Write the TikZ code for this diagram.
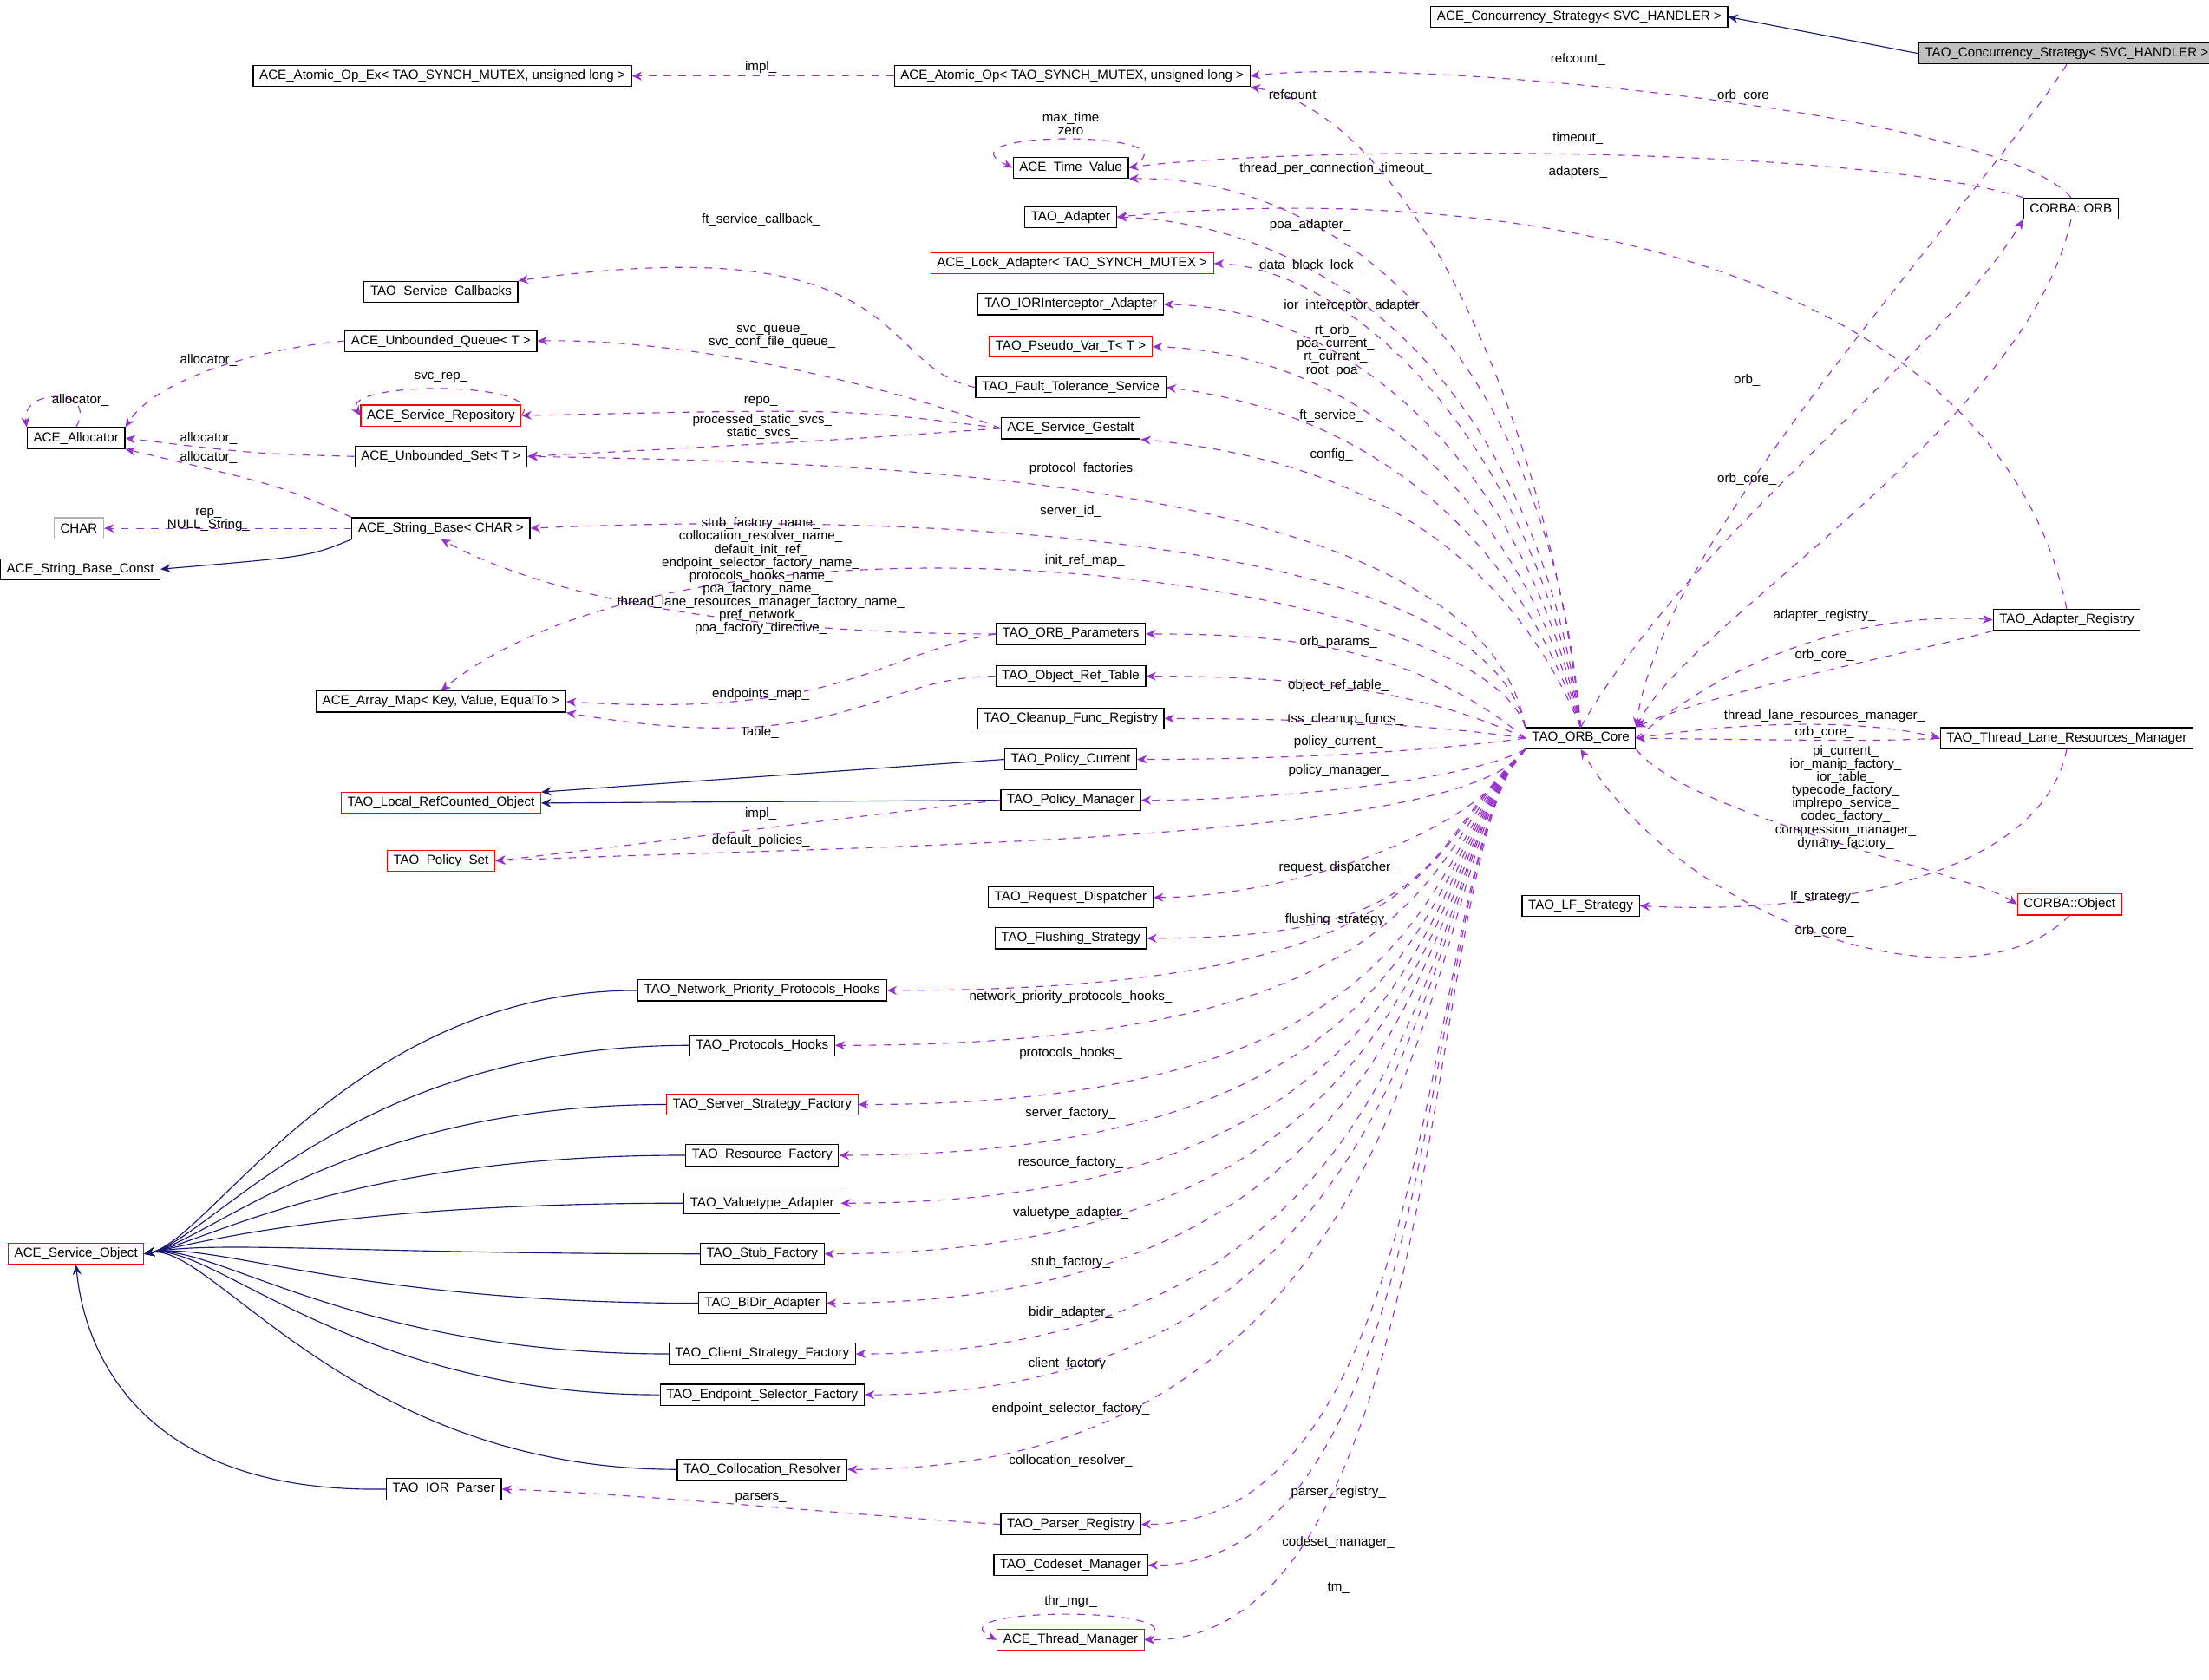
\documentclass[tikz,border=0pt]{standalone}
\usepackage{fontspec}
\setmainfont{Liberation Sans}
\usetikzlibrary{arrows.meta}
\definecolor{mbr}{RGB}{153,50,204}
\definecolor{nvy}{RGB}{25,25,112}
\tikzset{
  cls/.style={draw=black, fill=white, font=\fontsize{5.3}{5.6}\selectfont, inner xsep=2.5pt, inner ysep=1pt, minimum height=8.5pt},
  redcls/.style={cls, draw=red},
  lbl/.style={font=\fontsize{5.3}{5.3}\selectfont, align=center, inner sep=0.5pt},
  mem/.style={dashed, mbr, -{Stealth[length=4pt,width=3.5pt]}},
  inh/.style={nvy, -{Stealth[length=4pt,width=3.5pt]}}
}
\begin{document}
\begin{tikzpicture}[x=0.02cm,y=-0.02cm]
    \useasboundingbox (0,0) rectangle (1568,1192);
    % classes, middle column
    \node[cls] (aceConc) at (1121,12) {ACE\_Concurrency\_Strategy< SVC\_HANDLER >};
    \node[cls, fill=gray!50] (concS) at (1467,38) {TAO\_Concurrency\_Strategy< SVC\_HANDLER >};
    \node[cls] (atomEx) at (314,54) {ACE\_Atomic\_Op\_Ex< TAO\_SYNCH\_MUTEX, unsigned long >};
    \node[cls] (atom) at (761,54) {ACE\_Atomic\_Op< TAO\_SYNCH\_MUTEX, unsigned long >};
    \node[cls] (tval) at (760,119) {ACE\_Time\_Value};
    \node[cls] (adapter) at (760,154) {TAO\_Adapter};
    \node[redcls] (lockAd) at (761,187) {ACE\_Lock\_Adapter< TAO\_SYNCH\_MUTEX >};
    \node[cls] (iorIA) at (760,216) {TAO\_IORInterceptor\_Adapter};
    \node[redcls] (pseudo) at (760,246) {TAO\_Pseudo\_Var\_T< T >};
    \node[cls] (ftServ) at (760,275) {TAO\_Fault\_Tolerance\_Service};
    \node[cls] (gestalt) at (760,304) {ACE\_Service\_Gestalt};
    \node[cls] (orbParams) at (760,450) {TAO\_ORB\_Parameters};
    \node[cls] (objRef) at (760,480) {TAO\_Object\_Ref\_Table};
    \node[cls] (cleanup) at (760,510) {TAO\_Cleanup\_Func\_Registry};
    \node[cls] (polCur) at (760,539) {TAO\_Policy\_Current};
    \node[cls] (polMgr) at (760,568) {TAO\_Policy\_Manager};
    \node[cls] (reqDisp) at (760,637) {TAO\_Request\_Dispatcher};
    \node[cls] (flush) at (760,666) {TAO\_Flushing\_Strategy};
    \node[cls] (parserReg) at (760,1082) {TAO\_Parser\_Registry};
    \node[cls] (codeset) at (760,1111) {TAO\_Codeset\_Manager};
    \node[redcls] (thrMgr) at (760,1164) {ACE\_Thread\_Manager};
    % left columns
    \node[cls] (svcCb) at (313,207) {TAO\_Service\_Callbacks};
    \node[cls] (uqueue) at (313,242) {ACE\_Unbounded\_Queue< T >};
    \node[redcls] (svcRepo) at (313,295) {ACE\_Service\_Repository};
    \node[cls] (uset) at (313,324) {ACE\_Unbounded\_Set< T >};
    \node[cls] (strBase) at (313,375) {ACE\_String\_Base< CHAR >};
    \node[cls] (alloc) at (54,311) {ACE\_Allocator};
    \node[cls, draw=gray!60] (charN) at (56,375) {CHAR};
    \node[cls] (strConst) at (57,404) {ACE\_String\_Base\_Const};
    \node[cls] (amap) at (313,498) {ACE\_Array\_Map< Key, Value, EqualTo >};
    \node[redcls] (lrco) at (313,570) {TAO\_Local\_RefCounted\_Object};
    \node[redcls] (polSet) at (313,611) {TAO\_Policy\_Set};
    \node[redcls] (svcObj) at (54,890) {ACE\_Service\_Object};
    \node[cls] (iorParser) at (315,1057) {TAO\_IOR\_Parser};
    \node[cls] (netHooks) at (541,703) {TAO\_Network\_Priority\_Protocols\_Hooks};
    \node[cls] (protHooks) at (541,742) {TAO\_Protocols\_Hooks};
    \node[redcls] (srvFact) at (541,784) {TAO\_Server\_Strategy\_Factory};
    \node[cls] (resFact) at (541,820) {TAO\_Resource\_Factory};
    \node[cls] (vtAd) at (541,854) {TAO\_Valuetype\_Adapter};
    \node[cls] (stubFact) at (541,890) {TAO\_Stub\_Factory};
    \node[cls] (bidir) at (541,925) {TAO\_BiDir\_Adapter};
    \node[cls] (cliFact) at (541,961) {TAO\_Client\_Strategy\_Factory};
    \node[cls] (epFact) at (541,990) {TAO\_Endpoint\_Selector\_Factory};
    \node[cls] (colRes) at (541,1043) {TAO\_Collocation\_Resolver};
    % right side
    \node[cls] (core) at (1122,524) {TAO\_ORB\_Core};
    \node[cls] (orb) at (1470,148) {CORBA::ORB};
    \node[cls] (adReg) at (1467,440) {TAO\_Adapter\_Registry};
    \node[cls] (tlrm) at (1467,524) {TAO\_Thread\_Lane\_Resources\_Manager};
    \node[cls] (lfStrat) at (1122,643) {TAO\_LF\_Strategy};
    \node[redcls] (cobj) at (1469,642) {CORBA::Object};

    % inheritance
    \draw[inh] (concS.west) -- (aceConc.east);
    \draw[inh] (strBase.south west) .. controls (220,395) .. (strConst.east);
    \draw[inh] (polCur.west) -- (lrco.north east);
    \draw[inh] (polMgr.west) -- (lrco.east);
    \foreach \c/\cy in {netHooks/703,protHooks/742,srvFact/784,resFact/820,vtAd/854,stubFact/890,bidir/925,cliFact/961,epFact/990,colRes/1043}
        \draw[inh] (\c.west) .. controls (250,\cy) and (150,880) .. (svcObj.east);
    \draw[inh] (iorParser.west) .. controls (100,1060) and (60,960) .. (svcObj.south);

    % members
    \draw[mem] (atom.west) -- (atomEx.east);
    \draw[mem] (orb.north) .. controls (1420,80) and (1000,40) .. (atom.east);
    \draw[mem] (core.north) .. controls (1100,300) and (1000,80) .. (atom.south east);
    \draw[mem] (concS.south) .. controls (1400,150) and (1180,380) .. (core.north east);
    \draw[mem] (tval.east) .. controls (860,92) and (660,92) .. (tval.west);
    \draw[mem] (orb.north west) .. controls (1300,100) and (900,105) .. (tval.east);
    \draw[mem] (core.north) .. controls (1100,250) and (950,125) .. (tval.south east);
    \draw[mem] (adReg.north) .. controls (1420,200) and (1100,125) .. (adapter.east);
    \draw[mem] (core.north) .. controls (1090,280) and (950,160) .. (adapter.east);
    \draw[mem] (core.north) .. controls (1085,300) and (950,190) .. (lockAd.east);
    \draw[mem] (core.north) .. controls (1080,320) and (950,218) .. (iorIA.east);
    \draw[mem] (core.north) .. controls (1075,340) and (950,250) .. (pseudo.east);
    \draw[mem] (core.north) .. controls (1070,360) and (950,290) .. (ftServ.east);
    \draw[mem] (core.north) .. controls (1065,380) and (950,325) .. (gestalt.south east);
    \draw[mem] (ftServ.west) .. controls (620,260) and (650,160) .. (svcCb.north east);
    \draw[mem] (gestalt.west) .. controls (650,280) and (500,240) .. (uqueue.east);
    \draw[mem] (gestalt.west) .. controls (600,290) .. (svcRepo.east);
    \draw[mem] (svcRepo.east) .. controls (390,270) and (240,270) .. (svcRepo.west);
    \draw[mem] (gestalt.west) .. controls (600,312) .. (uset.east);
    \draw[mem] (core.north west) .. controls (1050,335) and (600,328) .. (uset.east);
    \draw[mem] (uqueue.west) .. controls (180,248) and (110,270) .. (alloc.north east);
    \draw[mem] (uset.west) .. controls (180,322) .. (alloc.east);
    \draw[mem] (strBase.north west) .. controls (200,345) .. (alloc.south east);
    \draw[mem] (alloc.north) .. controls (70,275) and (15,275) .. (alloc.north west);
    \draw[mem] (strBase.west) -- (charN.east);
    \draw[mem] (core.north west) .. controls (1050,370) and (600,365) .. (strBase.east);
    \draw[mem] (orbParams.west) .. controls (600,450) and (420,440) .. (strBase.south);
    \draw[mem] (core.north west) .. controls (1050,410) and (500,340) .. (amap.north);
    \draw[mem] (orbParams.west) .. controls (620,465) and (600,510) .. (amap.east);
    \draw[mem] (objRef.west) .. controls (620,480) and (600,540) .. (amap.south east);
    \draw[mem] (core.west) .. controls (1000,455) and (900,450) .. (orbParams.east);
    \draw[mem] (core.west) .. controls (1000,485) and (900,480) .. (objRef.east);
    \draw[mem] (core.west) .. controls (1000,512) and (900,510) .. (cleanup.east);
    \draw[mem] (core.west) .. controls (1000,535) and (900,539) .. (polCur.east);
    \draw[mem] (core.south west) .. controls (1040,555) and (900,568) .. (polMgr.east);
    \draw[mem] (polMgr.west) .. controls (600,580) and (450,600) .. (polSet.east);
    \draw[mem] (core.south west) .. controls (1040,600) and (600,600) .. (polSet.east);
    \draw[mem] (core.south west) .. controls (1040,600) and (900,637) .. (reqDisp.east);
    \foreach \t/\ty in {flush/666,netHooks/703,protHooks/742,srvFact/784,resFact/820,vtAd/854,stubFact/890,bidir/925,cliFact/961,epFact/990,colRes/1043,parserReg/1082,codeset/1111,thrMgr/1164}
        \draw[mem] (core.south west) .. controls (1010,600) and (1030,\ty) .. (\t.east);
    \draw[mem] (parserReg.west) .. controls (600,1075) and (450,1060) .. (iorParser.east);
    \draw[mem] (thrMgr.east) .. controls (860,1140) and (660,1140) .. (thrMgr.west);
    \draw[mem] (core.north) .. controls (1200,380) and (1380,250) .. (orb.south west);
    \draw[mem] (orb.south) .. controls (1440,300) and (1200,440) .. (core.north east);
    \draw[mem] (core.east) .. controls (1250,450) and (1350,435) .. (adReg.west);
    \draw[mem] (adReg.south west) .. controls (1350,465) and (1220,490) .. (core.north east);
    \draw[mem] (core.east) .. controls (1250,510) and (1330,512) .. (tlrm.west);
    \draw[mem] (tlrm.west) .. controls (1330,526) .. (core.east);
    \draw[mem] (core.south east) .. controls (1200,580) and (1400,620) .. (cobj.west);
    \draw[mem] (cobj.south) .. controls (1400,720) and (1200,660) .. (core.south);
    \draw[mem] (tlrm.south) .. controls (1450,620) and (1300,650) .. (lfStrat.east);

    % labels
    \node[lbl] (l1) at (540,48) {impl\_};
    \node[lbl] (l2) at (1120,42) {refcount\_};
    \node[lbl] (l3) at (920,68) {refcount\_};
    \node[lbl] (l4) at (1240,68) {orb\_core\_};
    \node[lbl] (l5) at (760,88) {max\_time\\zero};
    \node[lbl] (l6) at (1120,98) {timeout\_};
    \node[lbl] (l7) at (948,120) {thread\_per\_connection\_timeout\_};
    \node[lbl] (l8) at (1120,122) {adapters\_};
    \node[lbl] (l9) at (930,160) {poa\_adapter\_};
    \node[lbl] (l10) at (540,156) {ft\_service\_callback\_};
    \node[lbl] (l11) at (930,189) {data\_block\_lock\_};
    \node[lbl] (l12) at (962,217) {ior\_interceptor\_adapter\_};
    \node[lbl] (l13) at (548,239) {svc\_queue\_\\svc\_conf\_file\_queue\_};
    \node[lbl] (l14) at (948,249) {rt\_orb\_\\poa\_current\_\\rt\_current\_\\root\_poa\_};
    \node[lbl] (l15) at (148,256) {allocator\_};
    \node[lbl] (l16) at (313,268) {svc\_rep\_};
    \node[lbl] (l17) at (540,285) {repo\_};
    \node[lbl] (l18) at (57,284) {allocator\_};
    \node[lbl] (l19) at (945,295) {ft\_service\_};
    \node[lbl] (l20) at (541,303) {processed\_static\_svcs\_\\static\_svcs\_};
    \node[lbl] (l21) at (148,311) {allocator\_};
    \node[lbl] (l22) at (945,323) {config\_};
    \node[lbl] (l23) at (148,325) {allocator\_};
    \node[lbl] (l24) at (770,333) {protocol\_factories\_};
    \node[lbl] (l25) at (760,363) {server\_id\_};
    \node[lbl] (l26) at (148,369) {rep\_\\NULL\_String\_};
    \node[lbl] (l27) at (540,409) {stub\_factory\_name\_\\collocation\_resolver\_name\_\\default\_init\_ref\_\\endpoint\_selector\_factory\_name\_\\protocols\_hooks\_name\_\\poa\_factory\_name\_\\thread\_lane\_resources\_manager\_factory\_name\_\\pref\_network\_\\poa\_factory\_directive\_};
    \node[lbl] (l28) at (770,398) {init\_ref\_map\_};
    \node[lbl] (l29) at (1240,270) {orb\_};
    \node[lbl] (l30) at (1240,340) {orb\_core\_};
    \node[lbl] (l31) at (950,456) {orb\_params\_};
    \node[lbl] (l32) at (540,493) {endpoints\_map\_};
    \node[lbl] (l33) at (1295,437) {adapter\_registry\_};
    \node[lbl] (l34) at (1295,465) {orb\_core\_};
    \node[lbl] (l35) at (950,487) {object\_ref\_table\_};
    \node[lbl] (l36) at (540,520) {table\_};
    \node[lbl] (l37) at (955,511) {tss\_cleanup\_funcs\_};
    \node[lbl] (l38) at (1295,508) {thread\_lane\_resources\_manager\_};
    \node[lbl] (l39) at (1295,520) {orb\_core\_};
    \node[lbl] (l40) at (950,527) {policy\_current\_};
    \node[lbl] (l41) at (950,547) {policy\_manager\_};
    \node[lbl] (l42) at (1310,566) {pi\_current\_\\ior\_manip\_factory\_\\ior\_table\_\\typecode\_factory\_\\implrepo\_service\_\\codec\_factory\_\\compression\_manager\_\\dynany\_factory\_};
    \node[lbl] (l43) at (540,578) {impl\_};
    \node[lbl] (l44) at (540,597) {default\_policies\_};
    \node[lbl] (l45) at (950,616) {request\_dispatcher\_};
    \node[lbl] (l46) at (950,653) {flushing\_strategy\_};
    \node[lbl] (l47) at (1295,637) {lf\_strategy\_};
    \node[lbl] (l48) at (1295,661) {orb\_core\_};
    \node[lbl] (l49) at (760,708) {network\_priority\_protocols\_hooks\_};
    \node[lbl] (l50) at (760,748) {protocols\_hooks\_};
    \node[lbl] (l51) at (760,790) {server\_factory\_};
    \node[lbl] (l52) at (760,825) {resource\_factory\_};
    \node[lbl] (l53) at (760,861) {valuetype\_adapter\_};
    \node[lbl] (l54) at (760,896) {stub\_factory\_};
    \node[lbl] (l55) at (760,932) {bidir\_adapter\_};
    \node[lbl] (l56) at (760,968) {client\_factory\_};
    \node[lbl] (l57) at (760,1000) {endpoint\_selector\_factory\_};
    \node[lbl] (l58) at (760,1037) {collocation\_resolver\_};
    \node[lbl] (l59) at (540,1063) {parsers\_};
    \node[lbl] (l60) at (950,1059) {parser\_registry\_};
    \node[lbl] (l61) at (950,1095) {codeset\_manager\_};
    \node[lbl] (l62) at (760,1137) {thr\_mgr\_};
    \node[lbl] (l63) at (950,1127) {tm\_};
\end{tikzpicture}
\end{document}
